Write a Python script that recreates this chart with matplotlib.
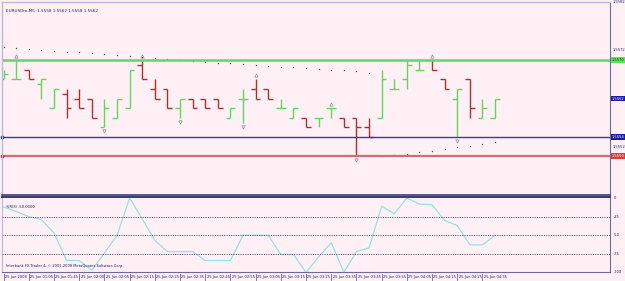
import matplotlib
matplotlib.use('Agg')
import matplotlib.pyplot as plt
import matplotlib.transforms as mtransforms
import numpy as np

# EURUSDm M5 bars (price)
opens = [1.5566, 1.5566, 1.5568, 1.5565, 1.5560, 1.5563, 1.5562, 1.5562, 1.5556, 1.5558,
         1.5560, 1.5569, 1.5564, 1.5564, 1.5560, 1.5562, 1.5562, 1.5562, 1.5558, 1.5562,
         1.5564, 1.5564, 1.5560, 1.5558, 1.5558, 1.5558, 1.5560, 1.5558, 1.5558, 1.5556,
         1.5558, 1.5564, 1.5566, 1.5568, 1.5570, 1.5566, 1.5562, 1.5566, 1.5558, 1.5558]
highs = [1.5568, 1.5570, 1.5568, 1.5566, 1.5564, 1.5564, 1.5564, 1.5562, 1.5562, 1.5562,
         1.5568, 1.5570, 1.5566, 1.5564, 1.5562, 1.5562, 1.5562, 1.5562, 1.5560, 1.5564,
         1.5566, 1.5564, 1.5562, 1.5560, 1.5558, 1.5558, 1.5560, 1.5558, 1.5558, 1.5558,
         1.5568, 1.5566, 1.5570, 1.5570, 1.5570, 1.5566, 1.5564, 1.5566, 1.5562, 1.5562]
lows = [1.5566, 1.5566, 1.5566, 1.5562, 1.5560, 1.5558, 1.5560, 1.5558, 1.5556, 1.5558,
        1.5560, 1.5566, 1.5562, 1.5560, 1.5558, 1.5560, 1.5560, 1.5560, 1.5558, 1.5557,
        1.5562, 1.5562, 1.5560, 1.5558, 1.5556, 1.5556, 1.5558, 1.5556, 1.5550, 1.5554,
        1.5558, 1.5564, 1.5564, 1.5568, 1.5568, 1.5564, 1.5554, 1.5558, 1.5558, 1.5558]
closes = [1.5567, 1.5566, 1.5566, 1.5566, 1.5564, 1.5560, 1.5560, 1.5558, 1.5560, 1.5562,
          1.5568, 1.5566, 1.5562, 1.5560, 1.5562, 1.5560, 1.5560, 1.5560, 1.5560, 1.5562,
          1.5562, 1.5562, 1.5560, 1.5560, 1.5556, 1.5558, 1.5560, 1.5556, 1.5556, 1.5554,
          1.5566, 1.5564, 1.5569, 1.5568, 1.5568, 1.5564, 1.5564, 1.5560, 1.5560, 1.5562]

# parabolic SAR: above the bars for bars 0..29, below for 30..39
sar_above = [1.55727, 1.55725, 1.55723, 1.55721, 1.55719, 1.55717, 1.55717, 1.55715, 1.55713, 1.55710,
             1.55708, 1.55706, 1.55704, 1.55702, 1.55700, 1.55698, 1.55696, 1.55694, 1.55694, 1.55692,
             1.55690, 1.55688, 1.55685, 1.55685, 1.55683, 1.55681, 1.55679, 1.55679, 1.55677, 1.55673]
sar_below = [1.55500, 1.55502, 1.55504, 1.55508, 1.55510, 1.55515, 1.55519, 1.55521, 1.55525, 1.55529]

fractal_up = [1, 11, 20, 26, 34]
fractal_down = [8, 14, 19, 28, 36]

# Williams %R(8)
wpr = [-12, -18, -25, -29, -47, -84, -84, -97, -74, -50,
       0, -28, -57, -72, -72, -72, -84, -84, -84, -50,
       -50, -50, -76, -76, -100, -79, -60, -100, -72, -67,
       -11, -21, 0, -8, -9, -30, -37, -63, -63, -50]

time_labels = ['25 Jun 2008', '25 Jun 01:05', '25 Jun 01:45', '25 Jun 02:00', '25 Jun 02:05',
               '25 Jun 02:15', '25 Jun 02:25', '25 Jun 02:35', '25 Jun 02:45', '25 Jun 02:55',
               '25 Jun 03:05', '25 Jun 03:15', '25 Jun 03:25', '25 Jun 03:35', '25 Jun 03:45',
               '25 Jun 03:55', '25 Jun 04:05', '25 Jun 04:15', '25 Jun 04:25', '25 Jun 04:35']

green_level = 1.5570
blue_level = 1.5554
red_level = 1.5550
current_price = 1.5562
price_ticks = [1.5582, 1.5572, 1.5552]
wpr_ticks = [0, -25, -50, -75, -100]

BG = '#fff0f5'
BULL = '#5fd75f'
BEAR = '#a83030'
W, H = 625, 281
FS = 2.6

fig = plt.figure(figsize=(6.25, 2.81), dpi=100, facecolor=BG)
ax = fig.add_axes([2 / W, (H - 195) / H, 608 / W, 193 / H], facecolor=BG)
ax2 = fig.add_axes([2 / W, (H - 272) / H, 608 / W, 75 / H], facecolor=BG)

n = len(opens)
x = np.arange(n)
xmin, xmax = -0.13, 48.12
tick = 0.38

for i in x:
    col = BULL if closes[i] >= opens[i] else BEAR
    ax.vlines(i, lows[i], highs[i], color=col, lw=1.0)
    ax.hlines(opens[i], i - tick, i, color=col, lw=1.0)
    ax.hlines(closes[i], i, i + tick, color=col, lw=1.0)

ax.plot(x[:len(sar_above)], sar_above, ls='none', marker='s', ms=0.9, color='#505068', mew=0)
ax.plot(x[len(sar_above):], sar_below, ls='none', marker='s', ms=0.9, color='#505068', mew=0)

up_tr = mtransforms.offset_copy(ax.transData, fig=fig, x=0, y=4, units='dots')
dn_tr = mtransforms.offset_copy(ax.transData, fig=fig, x=0, y=-4, units='dots')
for i in fractal_up:
    ax.plot(i, highs[i], marker='^', ms=2.4, mfc='none', mec='#8a8a92', mew=0.5, transform=up_tr)
for i in fractal_down:
    ax.plot(i, lows[i], marker='v', ms=2.4, mfc='none', mec='#8a8a92', mew=0.5, transform=dn_tr)

ax.axhline(green_level, color='#62d862', lw=1.8)
ax.axhline(blue_level, color='#3a3aa8', lw=1.0)
ax.axhline(red_level, color='#cf7070', lw=1.6)
ax.plot(xmin, blue_level, marker='s', ms=2, color='#2020a0', clip_on=False)
ax.plot(xmin, red_level, marker='s', ms=2, color='#b02020', clip_on=False)

ax.set_xlim(xmin, xmax)
ax.set_ylim(1.55419, 1.55821)
ax.set_xticks([])
ax.set_yticks([])
for s in ['top', 'left']:
    ax.spines[s].set_color('#b8b8dc')
    ax.spines[s].set_linewidth(1.0)
ax.spines['right'].set_color('#6a6aa0')
ax.spines['bottom'].set_color('#3a3a78')
ax.spines['bottom'].set_linewidth(1.2)

ytr = mtransforms.blended_transform_factory(ax.transAxes, ax.transData)
for p in price_ticks:
    ax.text(1.004, p, f'{p:.4f}', transform=ytr, fontsize=FS, color='#202070',
            va='center', ha='left', clip_on=False)
for p, fc, tc in [(green_level, '#5fe05f', '#005000'), (current_price, '#1a1aa8', 'white'),
                  (blue_level, '#1a1aa8', 'white'), (red_level, '#e03a3a', 'white')]:
    ax.text(1.003, p, f'{p:.4f}', transform=ytr, fontsize=FS, color=tc, va='center',
            ha='left', clip_on=False,
            bbox=dict(boxstyle='square,pad=0.2', fc=fc, ec='none'))

ax.text(0.006, 0.955, f'EURUSDm,M5  {opens[-1]:.4f} {highs[-1]:.4f} {lows[-1]:.4f} {closes[-1]:.4f}',
        transform=ax.transAxes, fontsize=3.0, color='#202060', va='center', ha='left')

# %R subwindow
ax2.plot(x, wpr, color='#8fe3ea', lw=0.9)
for lv in [-25, -50, -75]:
    ax2.axhline(lv, color='#5a5a78', lw=0.7, ls=(0, (1.2, 1.2)))
ax2.set_xlim(xmin, xmax)
ax2.set_ylim(-99.5, 1.5)
ax2.set_xticks([])
ax2.set_yticks([])
ax2.spines['top'].set_color('#3a3a78')
ax2.spines['top'].set_linewidth(1.4)
ax2.spines['left'].set_color('#b8b8dc')
ax2.spines['right'].set_color('#6a6aa0')
ax2.spines['bottom'].set_color('#6a6aa0')

ytr2 = mtransforms.blended_transform_factory(ax2.transAxes, ax2.transData)
for v in wpr_ticks:
    ax2.text(1.006, v, str(v), transform=ytr2, fontsize=FS, color='#202070',
             va='center', ha='left', clip_on=False)
ax2.text(0.006, 0.86, f'%R(8) {wpr[-1]:.4f}', transform=ax2.transAxes, fontsize=FS,
         color='#202060', va='center', ha='left')
ax2.text(0.006, 0.08, 'Interbank FX Trader 4, © 2001-2008 MetaQuotes Software Corp.',
         transform=ax2.transAxes, fontsize=FS, color='#202060', va='center', ha='left')

xtr = mtransforms.blended_transform_factory(ax2.transData, ax2.transAxes)
for k, lab in enumerate(time_labels):
    xi = 2 * k
    ax2.text(xi + 0.1, -0.04, lab, transform=xtr, fontsize=FS, color='#202070',
             va='top', ha='left', clip_on=False)
    ax2.plot([xi, xi], [-0.02, -0.13], transform=xtr, color='#6a6aa0', lw=0.6, clip_on=False)

fig.savefig('out.png', dpi=100, facecolor=BG)
